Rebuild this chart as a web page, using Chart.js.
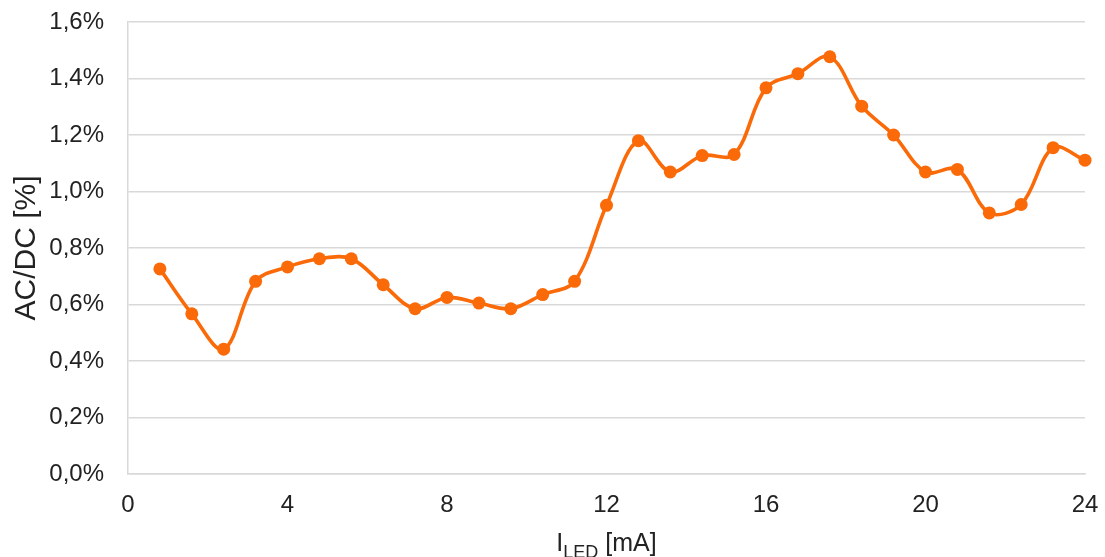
<!DOCTYPE html>
<html>
<head>
<meta charset="utf-8">
<script src="https://cdn.jsdelivr.net/npm/chart.js@4.4.1/dist/chart.umd.min.js"></script>
<style>
    html, body { margin: 0; padding: 0; background: #fff; }
    #wrap { width: 1105px; height: 557px; }
</style>
</head>
<body>
<div id="wrap"><canvas id="chart" width="1105" height="557"></canvas></div>
<script>
const currentMA = [0.8, 1.6, 2.4, 3.2, 4.0, 4.8, 5.6, 6.4, 7.2, 8.0,
    8.8, 9.6, 10.4, 11.2, 12.0, 12.8, 13.6, 14.4, 15.2, 16.0,
    16.8, 17.6, 18.4, 19.2, 20.0, 20.8, 21.6, 22.4, 23.2, 24.0];
const acdcPercent = [0.726, 0.567, 0.442, 0.682, 0.733, 0.762, 0.762, 0.670, 0.585, 0.625,
    0.605, 0.585, 0.635, 0.682, 0.951, 1.180, 1.069, 1.127, 1.131, 1.367,
    1.417, 1.477, 1.302, 1.200, 1.069, 1.078, 0.924, 0.954, 1.155, 1.111];
const xTicks = [0, 4, 8, 12, 16, 20, 24];
const yAxisTitle = 'AC/DC [%]';
const xAxisTitle = { main: 'I', sub: 'LED', unit: ' [mA]' };

const orange = '#fa6a08';
const gridColor = '#d9d9d9';
const textColor = '#222222';
const fontFamily = '"Liberation Sans", Arial, Helvetica, sans-serif';

// x axis title has a subscript, so draw it by hand
const xTitlePlugin = {
    id: 'xTitle',
    afterDraw(chart) {
        const ctx = chart.ctx;
        const area = chart.chartArea;
        const cx = (area.left + area.right) / 2;
        const baseY = 551;
        ctx.save();
        ctx.fillStyle = textColor;
        ctx.textBaseline = 'alphabetic';
        ctx.font = '25px ' + fontFamily;
        const wMain = ctx.measureText(xAxisTitle.main).width;
        const wUnit = ctx.measureText(xAxisTitle.unit).width;
        ctx.font = '18px ' + fontFamily;
        const wSub = ctx.measureText(xAxisTitle.sub).width;
        let x = cx - (wMain + wSub + wUnit) / 2;
        ctx.font = '25px ' + fontFamily;
        ctx.fillText(xAxisTitle.main, x, baseY);
        x += wMain;
        ctx.font = '18px ' + fontFamily;
        ctx.fillText(xAxisTitle.sub, x, baseY + 7);
        x += wSub;
        ctx.font = '25px ' + fontFamily;
        ctx.fillText(xAxisTitle.unit, x, baseY);
        ctx.restore();
    }
};

const points = currentMA.map((x, i) => ({ x: x, y: acdcPercent[i] }));

new Chart(document.getElementById('chart'), {
    type: 'line',
    data: {
        datasets: [{
            data: points,
            borderColor: orange,
            backgroundColor: orange,
            borderWidth: 3.6,
            pointRadius: 6.5,
            pointBorderWidth: 0,
            pointBackgroundColor: orange,
            tension: 0.35,
            fill: false,
            clip: false
        }]
    },
    options: {
        responsive: false,
        animation: false,
        layout: { padding: { top: 22, right: 20, left: 0, bottom: 0 } },
        plugins: {
            legend: { display: false },
            tooltip: { enabled: false }
        },
        scales: {
            x: {
                type: 'linear',
                min: 0,
                max: 24,
                afterBuildTicks: (scale) => {
                    scale.ticks = xTicks.map(v => ({ value: v }));
                },
                afterFit: (scale) => {
                    scale.height = 83;
                    scale.paddingLeft = 0;
                    scale.paddingRight = 0;
                },
                grid: { display: false, drawTicks: false },
                border: { display: true, color: gridColor, width: 1.5 },
                ticks: {
                    color: textColor,
                    padding: 17,
                    font: { family: fontFamily, size: 24 },
                    maxRotation: 0
                }
            },
            y: {
                min: 0,
                max: 1.6,
                afterFit: (scale) => {
                    scale.width = 128;
                    scale.paddingTop = 0;
                    scale.paddingBottom = 0;
                },
                ticks: {
                    stepSize: 0.2,
                    color: textColor,
                    padding: 24,
                    font: { family: fontFamily, size: 24 },
                    callback: (v) => v.toFixed(1).replace('.', ',') + '%'
                },
                grid: { color: gridColor, lineWidth: 1.5, drawTicks: false },
                border: { display: true, color: gridColor, width: 1.5 },
                title: {
                    display: true,
                    text: yAxisTitle,
                    color: textColor,
                    font: { family: fontFamily, size: 30 },
                    padding: { top: 9, bottom: 0 }
                }
            }
        }
    },
    plugins: [xTitlePlugin]
});
</script>
</body>
</html>
